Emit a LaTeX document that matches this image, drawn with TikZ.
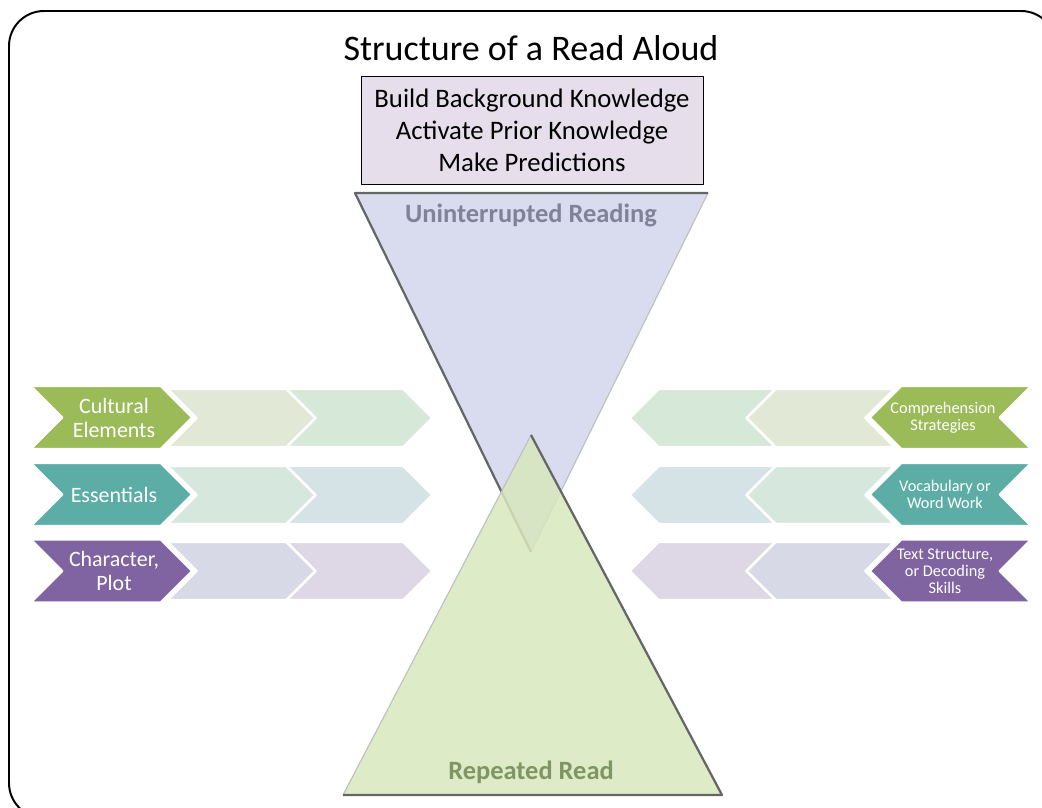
\documentclass[tikz,border=0pt]{standalone}
\usepackage{fontspec}
\setmainfont{Carlito}
\definecolor{olive}{HTML}{9BBB59}
\definecolor{teal}{HTML}{5BADA5}
\definecolor{plum}{HTML}{8064A2}
\definecolor{oliveA}{HTML}{E1E8D6}
\definecolor{oliveB}{HTML}{D6E8D8}
\definecolor{tealA}{HTML}{D6E7DE}
\definecolor{tealB}{HTML}{D5E2E6}
\definecolor{plumA}{HTML}{D7DAE6}
\definecolor{plumB}{HTML}{DED7E5}
\definecolor{boxfill}{HTML}{E6DFEB}
\definecolor{bluetri}{HTML}{D9DCEF}
\definecolor{greentri}{HTML}{D8E7BD}
\definecolor{bluetext}{HTML}{7F8398}
\definecolor{greentext}{HTML}{809564}
% chevron pointing right: left edge, tip, centre y, half height, colour
\newcommand{\chevright}[5]{\filldraw[fill=#5,draw=white,line width=1.5pt] (#1,#3-#4)--(#2-#4,#3-#4)--(#2,#3)--(#2-#4,#3+#4)--(#1,#3+#4)--(#1+#4,#3)--cycle;}
% chevron pointing left: right edge, tip, centre y, half height, colour
\newcommand{\chevleft}[5]{\filldraw[fill=#5,draw=white,line width=1.5pt] (#1,#3-#4)--(#2+#4,#3-#4)--(#2,#3)--(#2+#4,#3+#4)--(#1,#3+#4)--(#1-#4,#3)--cycle;}
\begin{document}
\begin{tikzpicture}[x=0.025cm,y=-0.025cm,line join=round,
    bigtext/.style={text=white,align=center,font=\fontsize{15.6}{17}\selectfont},
    smalltext/.style={text=white,align=center,font=\fontsize{11.6}{12}\selectfont}]
	\useasboundingbox (0,0) rectangle (1042,808);
	\clip (0,0) rectangle (1042,808);
	\draw[line width=1.4pt,rounded corners=0.875cm] (9,11) rectangle (1056,818);
	\node (title) at (531,48) {\fontsize{25.6}{30}\selectfont Structure of a Read Aloud};
	\node[draw,fill=boxfill,minimum width=342*0.025cm,minimum height=108*0.025cm,align=center,
		font=\fontsize{19}{22.8}\selectfont] (intro) at (532,130)
		{Build Background Knowledge\\Activate Prior Knowledge\\Make Predictions};
	% left rows
	\chevright{287}{432}{418}{29}{oliveB}
	\chevright{168}{315}{418}{29}{oliveA}
	\chevright{31}{192}{417.5}{31.5}{olive}
	\chevright{287}{432}{495}{29}{tealB}
	\chevright{168}{315}{495}{29}{tealA}
	\chevright{31}{192}{494.5}{31.5}{teal}
	\chevright{287}{432}{571}{29}{plumB}
	\chevright{168}{315}{571}{29}{plumA}
	\chevright{31}{192}{571}{31.5}{plum}
	\node[bigtext] (cultural) at (114,418) {Cultural\\Elements};
	\node[bigtext] (essentials) at (114,494.5) {Essentials};
	\node[bigtext] (character) at (114,571) {Character,\\Plot};
	% right rows
	\chevleft{775}{630}{418}{29}{oliveB}
	\chevleft{894}{747}{418}{29}{oliveA}
	\chevleft{1031}{870}{417.5}{31.5}{olive}
	\chevleft{775}{630}{495}{29}{tealB}
	\chevleft{894}{747}{495}{29}{tealA}
	\chevleft{1031}{870}{494.5}{31.5}{teal}
	\chevleft{775}{630}{571}{29}{plumB}
	\chevleft{894}{747}{571}{29}{plumA}
	\chevleft{1031}{870}{571}{31.5}{plum}
	\node[smalltext] (comprehension) at (943,417.5) {Comprehension\\Strategies};
	\node[smalltext] (vocabulary) at (945,494.5) {Vocabulary or\\Word Work};
	\node[smalltext] (textstructure) at (945,571) {Text Structure,\\or Decoding\\Skills};
	% uninterrupted reading
	\fill[bluetri] (355,193)--(708,193)--(531,552)--cycle;
	\draw[black!25,line width=0.8pt] (708,193)--(531,552);
	\draw[black!60,line width=1.6pt] (708,193)--(355,193)--(531,552);
	\node[text=bluetext,font=\fontsize{18.8}{20}\selectfont\bfseries] (uninterrupted) at (531,215) {Uninterrupted Reading};
	% repeated read
	\fill[greentri,opacity=0.85] (531,435)--(722,795)--(343,795)--cycle;
	\draw[black!25,line width=0.8pt] (343,795)--(531,435);
	\draw[black!60,line width=1.6pt] (531,435)--(722,795)--(343,795);
	\node[text=greentext,font=\fontsize{18.8}{20}\selectfont\bfseries] (repeated) at (531,772) {Repeated Read};
\end{tikzpicture}
\end{document}
